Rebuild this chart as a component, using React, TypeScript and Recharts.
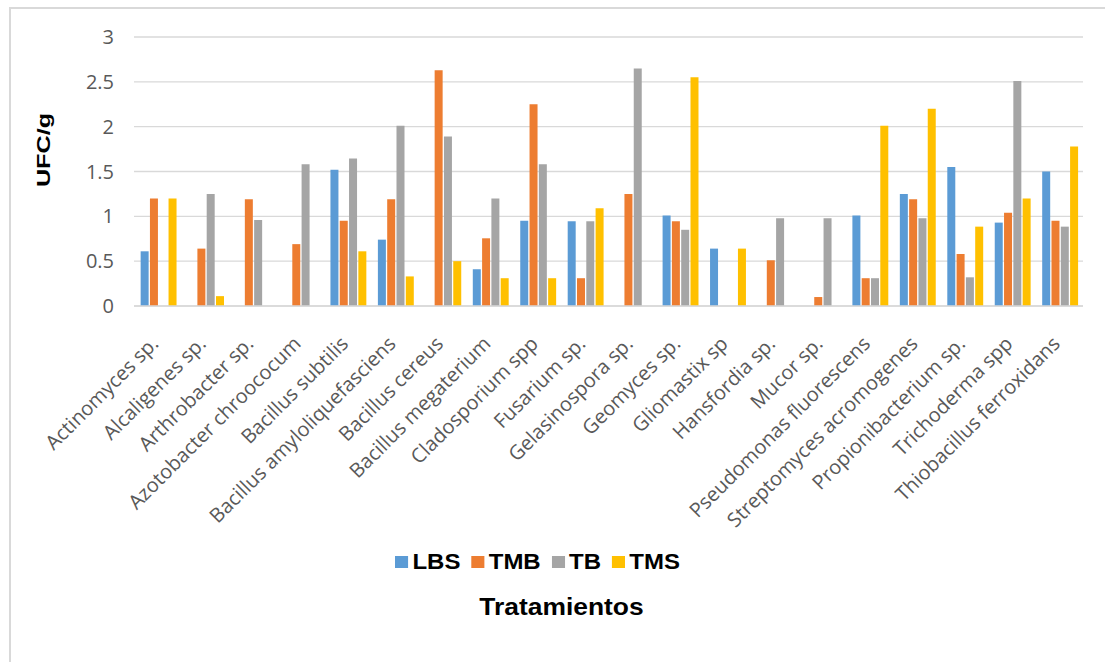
import { Bar, BarChart, CartesianGrid, Legend, XAxis, YAxis } from "recharts"

const categories = [
  "Actinomyces sp.",
  "Alcaligenes sp.",
  "Arthrobacter sp.",
  "Azotobacter chroococum",
  "Bacillus subtilis",
  "Bacillus amyloliquefasciens",
  "Bacillus cereus",
  "Bacillus megaterium",
  "Cladosporium spp",
  "Fusarium sp.",
  "Gelasinospora sp.",
  "Geomyces sp.",
  "Gliomastix sp",
  "Hansfordia sp.",
  "Mucor sp.",
  "Pseudomonas fluorescens",
  "Streptomyces acromogenes",
  "Propionibacterium sp.",
  "Trichoderma spp",
  "Thiobacillus ferroxidans",
]

const lbs = [0.61, 0, 0, 0, 1.52, 0.74, 0, 0.41, 0.95, 0.945, 0, 1.01, 0.64, 0, 0, 1.01, 1.25, 1.55, 0.93, 1.5]
const tmb = [1.2, 0.64, 1.19, 0.69, 0.95, 1.19, 2.63, 0.755, 2.25, 0.31, 1.25, 0.945, 0, 0.51, 0.1, 0.31, 1.19, 0.58, 1.04, 0.95]
const tb = [0, 1.25, 0.96, 1.58, 1.645, 2.01, 1.89, 1.2, 1.58, 0.945, 2.65, 0.85, 0, 0.98, 0.98, 0.31, 0.98, 0.32, 2.51, 0.885]
const tms = [1.2, 0.11, 0, 0, 0.61, 0.33, 0.5, 0.31, 0.31, 1.09, 0, 2.55, 0.64, 0, 0, 2.01, 2.2, 0.885, 1.2, 1.78]

const yTicks = [0, 0.5, 1, 1.5, 2, 2.5, 3]

const series = [
  { key: "LBS", color: "#5B9BD5" },
  { key: "TMB", color: "#ED7D31" },
  { key: "TB", color: "#A5A5A5" },
  { key: "TMS", color: "#FFC000" },
]

const data = categories.map((name, i) => ({
  name,
  LBS: lbs[i],
  TMB: tmb[i],
  TB: tb[i],
  TMS: tms[i],
}))

const boldFont = "'Liberation Sans', Arial, sans-serif"
const lightFont = "'Open Sans', 'Liberation Sans', sans-serif"

function CategoryTick(props: any) {
  const { x, y, payload } = props
  return (
    <g transform={`translate(${x + 2},${y + 31})`}>
      <text
        x={0}
        y={0}
        textAnchor="end"
        transform="rotate(-45)"
        fill="#595959"
        fontSize={20}
        fontFamily={lightFont}
      >
        {payload.value}
      </text>
    </g>
  )
}

function LegendBox() {
  return (
    <div style={{ position: "relative", width: 1105, height: 122, fontFamily: boldFont }}>
      <div
        style={{
          position: "absolute",
          left: 395,
          top: 9,
          display: "flex",
          alignItems: "center",
          fontWeight: "bold",
          fontSize: 22,
          color: "#000",
          transform: "scaleX(1.09)",
          transformOrigin: "left center",
        }}
      >
        {series.map((s) => (
          <span key={s.key} style={{ display: "flex", alignItems: "center", marginRight: 10 }}>
            <span style={{ width: 12, height: 12, background: s.color, marginRight: 4 }} />
            {s.key}
          </span>
        ))}
      </div>
      <div
        style={{
          position: "absolute",
          left: 0,
          width: 1123,
          top: 53,
          textAlign: "center",
          fontWeight: "bold",
          fontSize: 24,
          color: "#000",
          transform: "scaleX(1.1)",
        }}
      >
        Tratamientos
      </div>
    </div>
  )
}

export default function App() {
  return (
    <>
      <div
        style={{
          position: "absolute",
          left: 9,
          top: 7,
          width: 1096,
          height: 655,
          boxSizing: "border-box",
          borderLeft: "2px solid #d9d9d9",
          borderTop: "2px solid #d9d9d9",
        }}
      />
      <div style={{ position: "absolute", left: 0, top: 0, width: 1105, height: 662 }}>
        <BarChart
          width={1105}
          height={662}
          data={data}
          margin={{ top: 37, right: 22, left: 0, bottom: 0 }}
          barCategoryGap="14%"
          barGap={1.3}
        >
          <CartesianGrid vertical={false} stroke="#d9d9d9" strokeWidth={1.3} />
          <XAxis
            dataKey="name"
            interval={0}
            height={234}
            tick={<CategoryTick />}
            tickLine={false}
            axisLine={{ stroke: "#d9d9d9", strokeWidth: 1.5 }}
          />
          <YAxis
            width={134}
            domain={[0, 3]}
            ticks={yTicks}
            tickLine={false}
            axisLine={false}
            tickMargin={14}
            tick={{ fill: "#595959", fontSize: 20, fontFamily: lightFont }}
            label={{
              content: () => (
                <text
                  transform="translate(50, 150) rotate(-90) scale(1.4, 1)"
                  x={0}
                  y={0}
                  textAnchor="middle"
                  fontWeight="bold"
                  fontSize={18}
                  fontFamily={boldFont}
                  fill="#000"
                >
                  UFC/g
                </text>
              ),
            }}
          />
          <Legend verticalAlign="bottom" align="left" wrapperStyle={{ left: 0, width: 1105 }} content={() => <LegendBox />} />
          {series.map((s) => (
            <Bar key={s.key} dataKey={s.key} fill={s.color} isAnimationActive={false} />
          ))}
        </BarChart>
      </div>
    </>
  )
}
